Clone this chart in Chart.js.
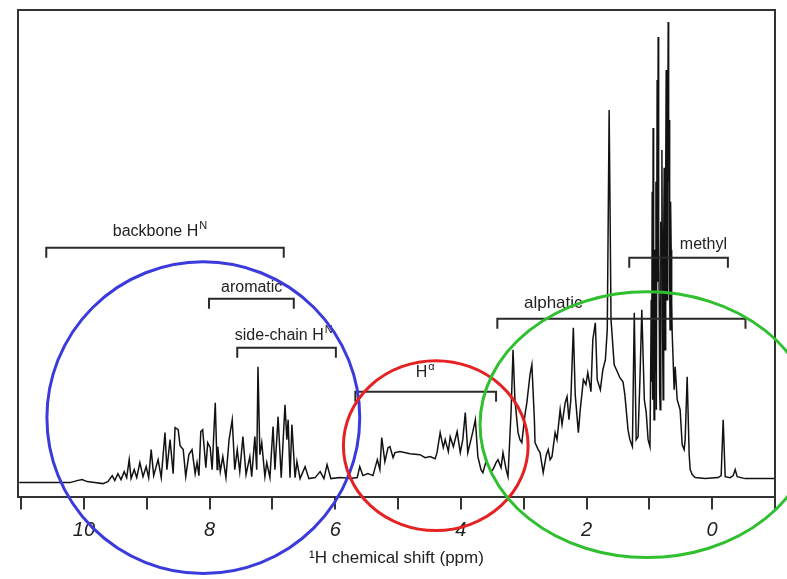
<!DOCTYPE html>
<html><head><meta charset="utf-8">
<script src="https://cdn.jsdelivr.net/npm/chart.js@4"></script>
<style>html,body{margin:0;padding:0;background:#fff}#wrap{width:787px;height:579px;position:relative}</style>
</head><body><div id="wrap"><canvas id="c"></canvas></div>
<script>
// chemical shift (ppm) and intensity (arbitrary units)
const ppm = [11.03,10.22,10.11,10.03,9.95,9.83,9.70,9.62,9.55,9.51,9.46,9.41,9.36,9.32,9.28,9.25,9.20,9.16,9.11,9.06,
9.01,8.97,8.93,8.89,8.82,8.77,8.71,8.68,8.63,8.58,8.55,8.50,8.47,8.42,8.38,8.33,8.28,8.23,8.20,8.17,
8.14,8.11,8.06,8.03,7.99,7.96,7.91,7.88,7.87,7.83,7.79,7.74,7.69,7.64,7.60,7.56,7.52,7.47,7.42,7.36,
7.33,7.28,7.25,7.23,7.20,7.17,7.12,7.09,7.04,6.99,6.96,6.91,6.86,6.80,6.77,6.75,6.72,6.69,6.64,6.61,
6.56,6.48,6.42,6.32,6.24,6.18,6.13,6.07,5.92,5.76,5.65,5.61,5.56,5.48,5.40,5.33,5.29,5.26,5.21,5.16,
5.13,5.08,5.05,4.97,4.81,4.65,4.57,4.49,4.41,4.38,4.33,4.28,4.25,4.20,4.17,4.12,4.06,4.01,3.97,3.93,
3.89,3.84,3.81,3.77,3.73,3.68,3.65,3.60,3.57,3.52,3.49,3.44,3.41,3.36,3.33,3.28,3.25,3.20,3.17,3.14,
3.09,3.06,3.03,2.98,2.95,2.90,2.87,2.83,2.82,2.77,2.74,2.69,2.64,2.61,2.58,2.55,2.50,2.47,2.42,2.39,
2.34,2.31,2.28,2.25,2.21,2.18,2.13,2.10,2.05,2.01,1.98,1.93,1.90,1.86,1.83,1.78,1.74,1.70,1.67,1.64,
1.61,1.56,1.51,1.47,1.42,1.39,1.34,1.31,1.27,1.24,1.21,1.18,1.15,1.12,1.08,1.05,1.02,
0.99,0.978,0.97,0.962,0.955,0.947,0.94,0.932,0.925,0.915,0.905,0.895,0.889,0.876,0.868,0.86,0.852,0.844,0.836,0.828,
0.818,0.81,0.80,0.79,0.78,0.772,0.764,0.756,0.748,0.74,0.732,0.725,0.717,0.708,0.70,0.693,0.685,0.677,0.67,0.662,
0.653,0.645,0.637,
0.605,0.589,0.557,0.51,0.478,0.446,0.43,0.398,0.366,0.35,0.318,0.271,0.111,-0.096,-0.143,-0.175,-0.207,-0.287,-0.334,
-0.366,-0.398,-0.525,-1.0];
const intensity = [-1,-1,1,2,0,-1,-2,0,6,1,8,2,10,4,22,3,12,4,19,5,
15,4,32,6,22,4,49,12,42,8,54,52,36,32,5,27,32,8,19,6,
50,52,14,39,34,12,79,12,35,10,25,4,42,62,12,32,10,45,7,25,
5,45,12,115,27,39,5,19,4,55,12,65,4,77,42,62,4,57,4,20,
3,15,3,4,10,3,17,3,4,3,4,15,6,8,6,22,12,44,20,34,
35,24,29,30,28,27,24,25,23,29,49,34,42,30,45,35,50,29,42,69,
29,42,50,62,25,12,9,20,17,10,12,19,22,14,29,12,5,72,132,82,
49,42,39,67,79,107,117,62,39,32,29,9,27,32,22,25,49,42,72,57,
79,85,62,82,154,87,49,72,102,97,109,90,142,159,102,92,112,122,152,372,
162,117,110,104,100,87,52,42,35,169,42,45,102,172,82,69,42,
35,120,182,100,290,82,354,150,62,232,110,300,72,402,200,445,250,182,90,72,
260,232,332,150,82,240,314,200,132,300,412,250,182,330,460,300,362,200,152,280,
232,180,149,
92,115,82,72,37,32,42,105,27,12,7,4,3,4,6,62,5,4,6,
12,5,3,3];
const labelledTicks = [10, 8, 6, 4, 2, 0];

// annotated regions (ppm ranges)
const regionNames = ['backbone H', 'aromatic', 'side-chain H', 'H', 'alphatic', 'methyl'];
const regionSup   = ['N', '', 'N', '\u03B1', '', ''];
const regionFrom  = [10.6, 8.01, 7.56, 5.68, 3.42, 1.32];
const regionTo    = [6.82, 6.66, 5.99, 3.44, -0.53, -0.25];
const regionLevel = [234, 183, 134, 90, 163, 224];
const labelPpm    = [8.79, 7.33, 6.82, 4.57, 2.53, 0.14];
const labelLevel  = [246, 190, 142, 105, 174, 233];

// highlight ellipses (in data units)
const circleCx = [8.10, 4.40, 1.035];
const circleCy = [64, 36, 57];
const circleRx = [2.49, 1.47, 2.66];
const circleRy = [156, 85, 133];

const FONT = '"Liberation Sans", Arial, Helvetica, sans-serif';
const circleColors = ['#3b3bdc', '#e42222', '#2fbf2f'];

const points = ppm.map((p, i) => ({x: p, y: intensity[i]}));

const annotPlugin = {
  id: 'annot',
  afterDatasetsDraw(chart) {
    const {ctx, chartArea: a, scales: {x, y}} = chart;
    ctx.save();
    ctx.strokeStyle = '#333';
    ctx.lineWidth = 2;
    ctx.beginPath();
    ctx.moveTo(a.left, a.bottom);
    ctx.lineTo(a.left, a.top);
    ctx.lineTo(a.right, a.top);
    ctx.lineTo(a.right, a.bottom);
    ctx.stroke();
    ctx.lineWidth = 2;
    ctx.strokeStyle = '#2a2a2a';
    for (let i = 0; i < regionNames.length; i++) {
      const x1 = x.getPixelForValue(regionFrom[i]);
      const x2 = x.getPixelForValue(regionTo[i]);
      const yl = y.getPixelForValue(regionLevel[i]);
      const yt = y.getPixelForValue(regionLevel[i] - 10);
      ctx.beginPath();
      ctx.moveTo(x1, yt); ctx.lineTo(x1, yl); ctx.lineTo(x2, yl); ctx.lineTo(x2, yt);
      ctx.stroke();
      const mainFont = (i === 4 ? '17px ' : '16px ') + FONT;
      const supFont = '11px ' + FONT;
      ctx.font = mainFont;
      const w1 = ctx.measureText(regionNames[i]).width;
      ctx.font = supFont;
      const w2 = regionSup[i] ? ctx.measureText(regionSup[i]).width + 1 : 0;
      const cx = x.getPixelForValue(labelPpm[i]);
      const by = y.getPixelForValue(labelLevel[i]);
      const sx = cx - (w1 + w2) / 2;
      ctx.fillStyle = '#222';
      ctx.textBaseline = 'alphabetic';
      ctx.textAlign = 'left';
      ctx.font = mainFont;
      ctx.fillText(regionNames[i], sx, by);
      if (regionSup[i]) {
        ctx.font = supFont;
        ctx.fillText(regionSup[i], sx + w1 + 1, by - 7);
      }
    }
    ctx.restore();
  },
  afterDraw(chart) {
    const {ctx, scales: {x, y}} = chart;
    ctx.save();
    ctx.lineWidth = 3;
    for (let i = 0; i < circleCx.length; i++) {
      const cx = x.getPixelForValue(circleCx[i]);
      const cy = y.getPixelForValue(circleCy[i]);
      const rx = Math.abs(x.getPixelForValue(circleCx[i] + circleRx[i]) - cx);
      const ry = Math.abs(y.getPixelForValue(circleCy[i] + circleRy[i]) - cy);
      ctx.strokeStyle = circleColors[i];
      ctx.beginPath();
      ctx.ellipse(cx, cy, rx, ry, 0, 0, Math.PI * 2);
      ctx.stroke();
    }
    ctx.restore();
  }
};

new Chart(document.getElementById('c'), {
  type: 'line',
  data: { datasets: [{
    data: points,
    borderColor: '#121212',
    borderWidth: 1.5,
    pointRadius: 0,
    tension: 0,
    fill: false
  }]},
  options: {
    responsive: true,
    maintainAspectRatio: false,
    animation: false,
    layout: { padding: { left: 18, right: 12, top: 10, bottom: 10 } },
    plugins: { legend: { display: false }, tooltip: { enabled: false } },
    scales: {
      x: {
        type: 'linear', reverse: true, min: -1, max: 11.05,
        ticks: {
          stepSize: 1, includeBounds: false, autoSkip: false, maxRotation: 0,
          callback: v => labelledTicks.includes(Math.round(v * 1000) / 1000) ? String(Math.round(v)) : '',
          font: { family: FONT, size: 20, style: 'italic' }, color: '#222', padding: 9
        },
        grid: { drawOnChartArea: false, drawTicks: true, tickLength: 13, lineWidth: 2, color: '#333' },
        border: { display: true, color: '#333', width: 2 },
        title: { display: true, text: '\u00B9H chemical shift (ppm)', color: '#222',
                 font: { family: FONT, size: 17 }, padding: { top: -3, bottom: 0 } }
      },
      y: { display: false, min: -15, max: 472 }
    }
  },
  plugins: [annotPlugin]
});
</script></body></html>
